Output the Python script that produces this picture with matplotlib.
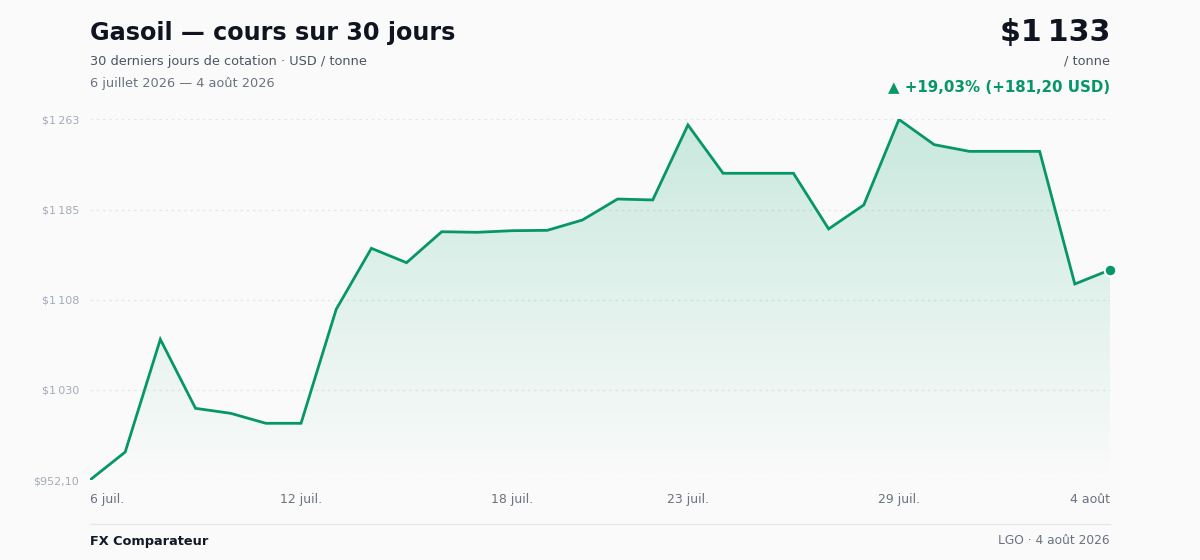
import numpy as np
import matplotlib.pyplot as plt

plt.rcParams['font.family'] = ['DejaVu Sans']

# données (USD / tonne, 6 juil. -> 4 août 2026)
prices = [952.10, 976.2, 1073.4, 1013.9, 1009.6, 1001.0, 1001.0, 1099.3, 1151.9, 1139.5,
          1166.2, 1165.7, 1167.1, 1167.4, 1176.3, 1194.4, 1193.6, 1258.3, 1216.6, 1216.6,
          1216.6, 1168.6, 1189.3, 1263.0, 1241.3, 1235.5, 1235.5, 1235.5, 1121.1, 1133.30]
x_tick_idx = [0, 6, 12, 17, 23, 29]
x_tick_labels = ['6 juil.', '12 juil.', '18 juil.', '23 juil.', '29 juil.', '4 ao\u00fbt']
y_tick_labels = ['$952,10', '$1\u202f030', '$1\u202f108', '$1\u202f185', '$1\u202f263']

GREEN = '#079669'
BG = '#fafafa'

fig = plt.figure(figsize=(12, 5.6), dpi=100, facecolor=BG)
ax = fig.add_axes([0.075, 0.142857, 0.85, 0.6438])
ax.set_facecolor(BG)

x = np.arange(len(prices))
y = np.array(prices)
ymin, ymax = y.min(), y.max()

# remplissage en dégradé sous la courbe
poly = ax.fill_between(x, y, ymin, facecolor='none', edgecolor='none')
grad = np.zeros((256, 1, 4))
grad[:, 0, :3] = [0.06, 0.66, 0.45]
grad[:, 0, 3] = np.linspace(0.0, 0.21, 256)
img = ax.imshow(grad, extent=[0, len(prices) - 1, ymin, ymax], origin='lower',
                aspect='auto', zorder=1)
img.set_clip_path(poly.get_paths()[0], transform=ax.transData)

ax.plot(x, y, color=GREEN, lw=2, zorder=3, solid_joinstyle='miter')
ax.scatter([x[-1]], [y[-1]], s=70, color=GREEN, edgecolor='white', linewidth=1.5, zorder=4,
           clip_on=False)

yt = np.linspace(ymin, ymax, 5)
for v in yt:
    ax.axhline(v, color='#e3e6ea', lw=0.9, ls=(0, (2, 3)), zorder=0)
ax.set_yticks(yt)
ax.set_yticklabels(y_tick_labels, fontsize=8, color='#a3abb8')
ax.set_xticks(x_tick_idx)
ax.set_xticklabels(x_tick_labels, fontsize=9, color='#6b7280')
labs = ax.get_xticklabels()
labs[0].set_ha('left')
labs[-1].set_ha('right')
ax.tick_params(length=0)
ax.tick_params(axis='y', pad=8)
ax.tick_params(axis='x', pad=9)
ax.set_xlim(0, len(prices) - 1)
ax.set_ylim(ymin, ymax)
for s in ax.spines.values():
    s.set_visible(False)

# en-tête
fig.text(0.075, 1 - 33 / 560, 'Gasoil \u2014 cours sur 30 jours', fontsize=17.2, fontweight='bold',
         color='#0f1420', va='center', ha='left')
fig.text(0.075, 1 - 61 / 560, '30 derniers jours de cotation \u00b7 USD / tonne', fontsize=9.3,
         color='#4b5563', va='center', ha='left')
fig.text(0.075, 1 - 83 / 560, '6 juillet 2026 \u2014 4 ao\u00fbt 2026', fontsize=9.3,
         color='#6b7280', va='center', ha='left')
fig.text(0.925, 1 - 32 / 560, '$1\u202f133', fontsize=21.6, fontweight='bold',
         color='#0f1420', va='center', ha='right')
fig.text(0.925, 1 - 61 / 560, '/ tonne', fontsize=9.3, color='#4b5563', va='center', ha='right')
fig.text(0.925, 1 - 87 / 560, '\u25b2 +19,03% (+181,20 USD)', fontsize=10.8, fontweight='bold',
         color=GREEN, va='center', ha='right')

# pied de page
fig.add_artist(plt.Line2D([0.075, 0.925], [1 - 524 / 560] * 2, color='#e5e7eb', lw=1))
fig.text(0.075, 1 - 541 / 560, 'FX Comparateur', fontsize=9.3, fontweight='bold',
         color='#111827', va='center', ha='left')
fig.text(0.925, 1 - 541 / 560, 'LGO \u00b7 4 ao\u00fbt 2026', fontsize=8.8, color='#6b7280',
         va='center', ha='right')

fig.savefig('out.png', dpi=100, facecolor=BG)
